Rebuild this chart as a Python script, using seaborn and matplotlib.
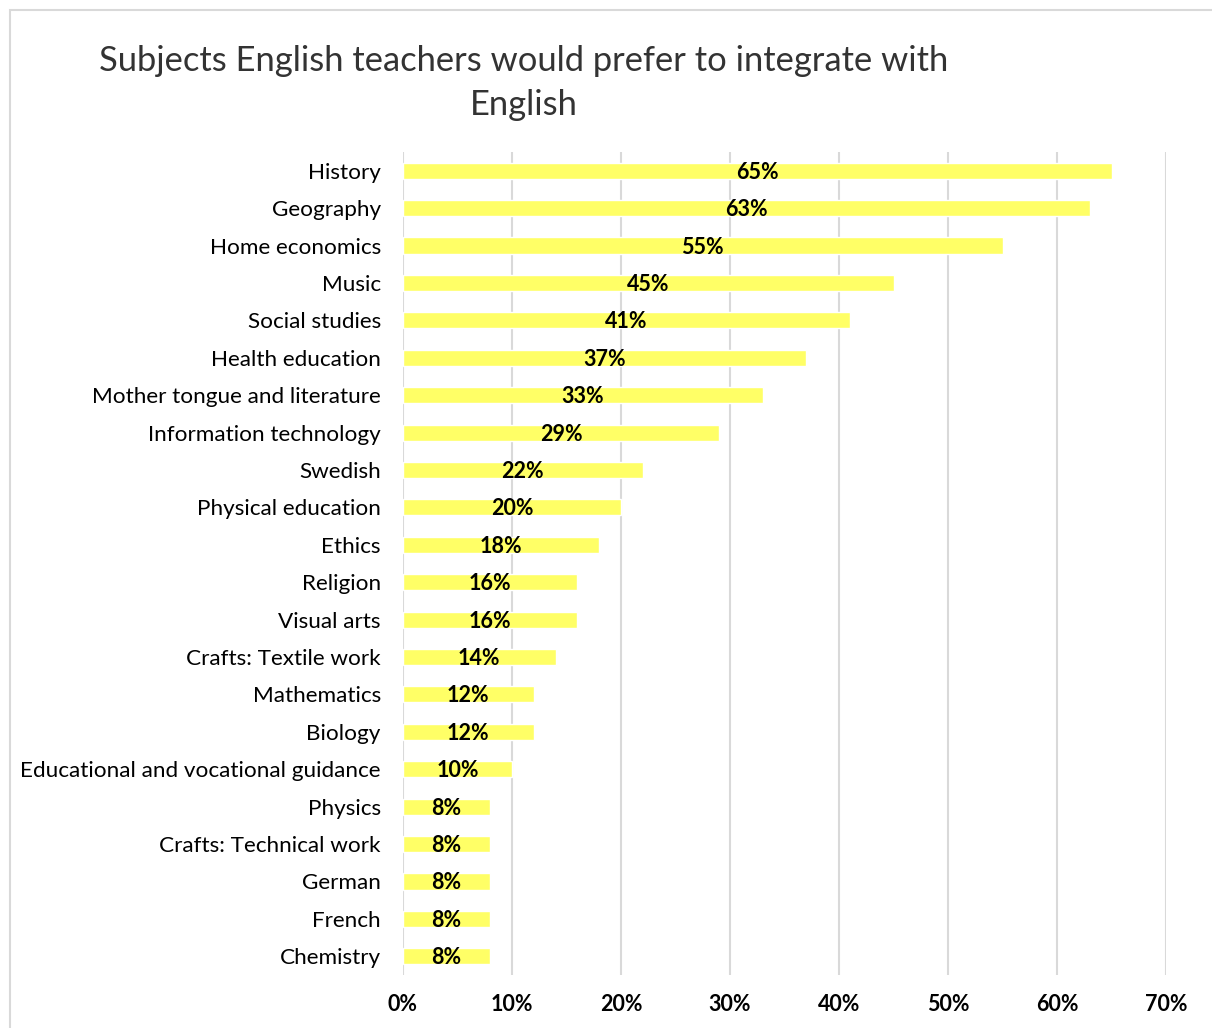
import matplotlib
matplotlib.use("Agg")
import matplotlib.pyplot as plt
import seaborn as sns
import pandas as pd
from matplotlib.patches import Rectangle

subjects = ["History", "Geography", "Home economics", "Music", "Social studies",
            "Health education", "Mother tongue and literature", "Information technology",
            "Swedish", "Physical education", "Ethics", "Religion", "Visual arts",
            "Crafts: Textile work", "Mathematics", "Biology",
            "Educational and vocational guidance", "Physics", "Crafts: Technical work",
            "German", "French", "Chemistry"]
values = [65, 63, 55, 45, 41, 37, 33, 29, 22, 20, 18, 16, 16, 14, 12, 12, 10, 8, 8, 8, 8, 8]
xticks = [0, 10, 20, 30, 40, 50, 60, 70]

df = pd.DataFrame({"subject": subjects, "value": values})

sns.set_theme(style="white")
plt.rcParams['font.family'] = ['Lato', 'DejaVu Sans']

fig = plt.figure(figsize=(12.12, 10.28), dpi=100)
ax = fig.add_axes([403/1212, 1-975/1028, (1166-403)/1212, (975-152)/1028])

sns.barplot(data=df, x="value", y="subject", orient="h", color="#FFFF66",
            saturation=1, width=0.43, ax=ax, zorder=3)

ax.set_xlim(0, 70)
ax.set_xticks(xticks)
ax.set_xticklabels([f"{t}%" for t in xticks], fontsize=15.5, fontweight="bold", color="black")
ax.tick_params(axis="x", length=0, pad=14)
ax.tick_params(axis="y", length=0, pad=16)
for lab in ax.get_yticklabels():
    lab.set_fontsize(16.2)
    lab.set_color("black")
ax.set_xlabel("")
ax.set_ylabel("")
ax.grid(axis="x", color="#D9D9D9", linewidth=1.5, zorder=0)
for s in ax.spines.values():
    s.set_visible(False)

for i, v in enumerate(values):
    ax.text(v / 2, i + 0.04, f"{v}%", ha="center", va="center", fontsize=15.5,
            fontweight="bold", color="black", zorder=4)

fig.text(524/1212, 1-83/1028, "Subjects English teachers would prefer to integrate with\nEnglish",
         ha="center", va="center", fontsize=24.8, color="#333333", linespacing=1.45)

fig.patches.append(Rectangle((10/1212, -0.1), 1.2, (1028-10)/1028 + 0.1, transform=fig.transFigure,
                             fill=False, edgecolor="#D9D9D9", linewidth=1.5))

fig.savefig("out.png", dpi=100)
